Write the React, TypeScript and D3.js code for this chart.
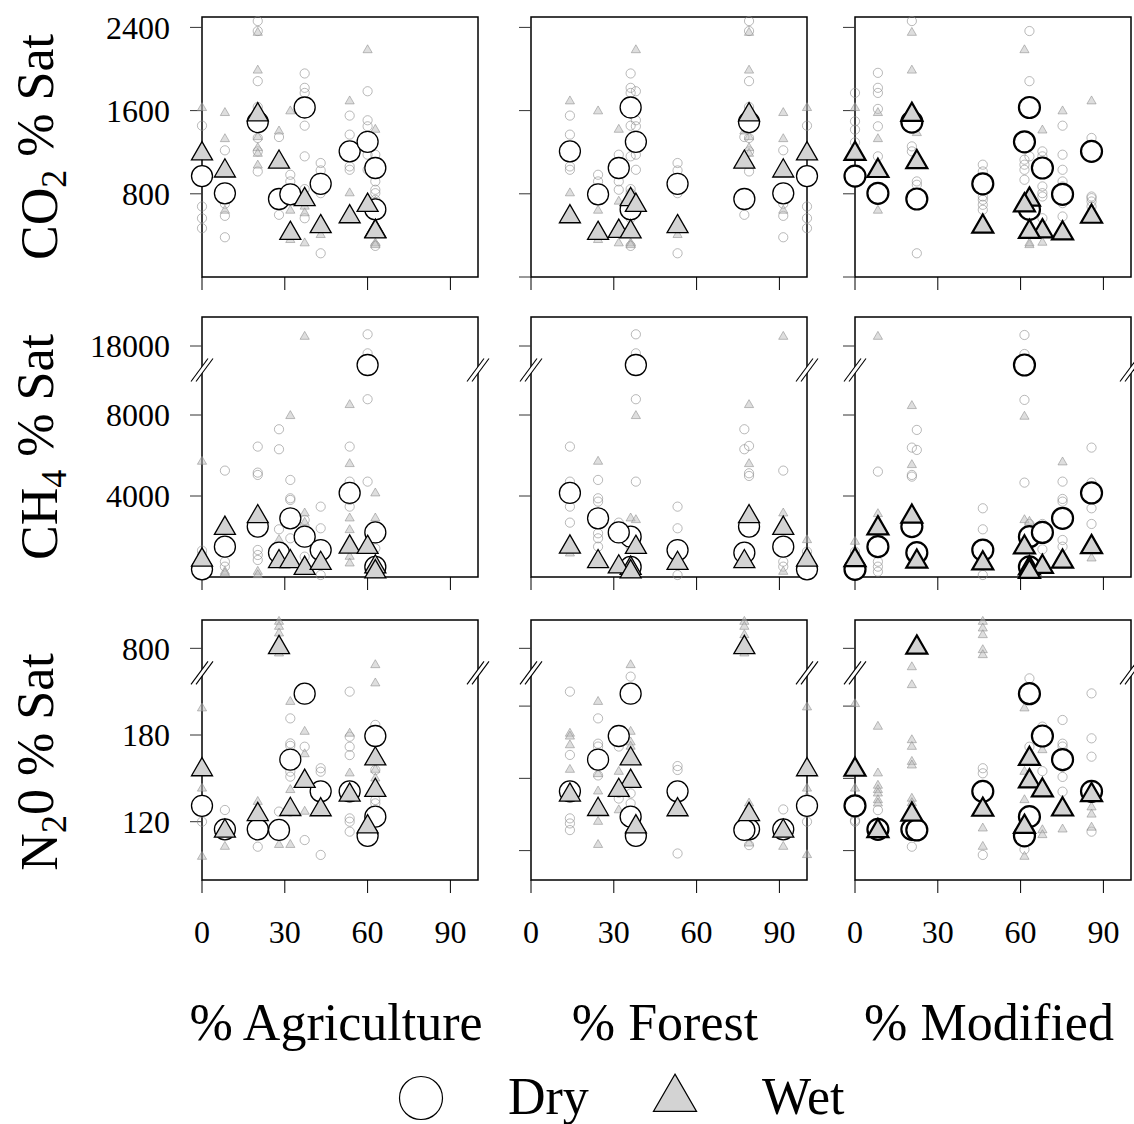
import React, { useEffect, useRef } from 'react';
import * as d3 from 'd3';

// land use of the 11 streams (%)
const agriculture = [0, 8.3, 20.2, 27.9, 32, 37.2, 43, 53.5, 60, 62.8, 62.8];
const forest = [100, 91.4, 79, 77.3, 24.3, 36.1, 53.1, 14.1, 38, 31.8, 36.1];
const modified = [0, 8.3, 20.6, 22.4, 75.2, 63.2, 46.3, 85.7, 61.4, 67.9, 63.2];

// stream means, % saturation
const co2Dry = [970, 805, 1490, 750, 795, 1630, 896, 1208, 1300, 1048, 650];
const co2Wet = [1185, 1020, 1560, 1105, 420, 745, 485, 580, 690, 440, 435];
const ch4Dry = [380, 1500, 2490, 1200, 2900, 1990, 1330, 4150, 15625, 2200, 500];
const ch4Wet = [840, 2405, 2980, 758, 758, 430, 675, 1480, 1466, 500, 260];
const n2oDry = [131, 114.7, 114.7, 114.3, 163, 208.6, 141, 141, 110.2, 179.3, 123.5];
const n2oWet = [156, 113.5, 125, 805, 128.5, 148, 128.3, 138.5, 116.5, 141.7, 163.5];

// single samples: [stream, value]
const co2DryObs = [
  [0, 1455], [0, 678], [0, 565], [0, 469],
  [1, 1218], [1, 704], [1, 588], [1, 382],
  [2, 2461], [2, 2365], [2, 1883], [2, 1635], [2, 1337], [2, 1208], [2, 1015],
  [3, 1346], [3, 598],
  [4, 983], [4, 919],
  [5, 1957], [5, 1819], [5, 1770], [5, 1455], [5, 1160], [5, 845], [5, 565],
  [6, 1096], [6, 1025], [6, 806], [6, 228],
  [7, 1552], [7, 1369], [7, 1063], [7, 1031],
  [8, 1786], [8, 1507], [8, 1449], [8, 1176], [8, 1031], [8, 662],
  [9, 1176], [9, 1096], [9, 919], [9, 839],
  [10, 806], [10, 742], [10, 299],
];
const co2WetObs = [
  [0, 1626],
  [1, 1578], [1, 1327], [1, 639],
  [2, 2349], [2, 1986], [2, 1610], [2, 1346], [2, 1240], [2, 1186], [2, 1073],
  [3, 1401],
  [4, 1594], [4, 726], [4, 639], [4, 357],
  [5, 678], [5, 614], [5, 325],
  [6, 405],
  [7, 1690], [7, 806],
  [8, 2182],
  [9, 1417], [9, 726], [9, 325],
  [10, 308],
];
const co2ModDryObs = [
  [0, 1770], [0, 1497], [0, 1417], [0, 1295],
  [1, 1963], [1, 1819], [1, 1770], [1, 1616], [1, 1449], [1, 1160],
  [2, 2461], [2, 1256], [2, 1208],
  [3, 919], [3, 887], [3, 228],
  [6, 1080], [6, 1015], [6, 774], [6, 742], [6, 694], [6, 646],
  [8, 1128], [8, 1080], [8, 1031], [8, 935],
  [5, 2365], [5, 1883],
  [10, 1160],
  [9, 1208], [9, 1160], [9, 871], [9, 806], [9, 774], [9, 565],
  [4, 1455], [4, 1176], [4, 1031], [4, 919], [4, 871], [4, 710], [4, 582],
  [7, 1337], [7, 774], [7, 758], [7, 726], [7, 678],
];
const co2ModWetObs = [
  [0, 1626],
  [1, 1578], [1, 1327], [1, 639],
  [2, 2349], [2, 1986], [3, 1385],
  [8, 2182],
  [9, 1410], [9, 331],
  [4, 1594],
  [7, 1690],
  [10, 308], [5, 325],
];

const ch4AgDryObs = [
  [0, 1301], [0, 1087],
  [1, 5254], [1, 758], [1, 511],
  [2, 6440], [2, 5155], [2, 5040], [2, 1334], [2, 1087], [2, 840],
  [3, 7296], [3, 6308], [3, 2355],
  [4, 4793], [4, 3887], [4, 3805], [4, 2981], [4, 1911],
  [5, 2816], [5, 1005],
  [6, 3475], [6, 2405], [6, 99],
  [7, 6440], [7, 4710], [7, 3805], [7, 3475],
  [8, 19460], [8, 17083], [8, 8779], [8, 4710],
  [9, 1416],
];
const ch4AgWetObs = [
  [0, 5699], [0, 1202],
  [1, 264], [1, 181],
  [2, 264], [2, 99],
  [3, 1828],
  [4, 7955],
  [5, 19167], [5, 3146], [5, 2685],
  [7, 8498], [7, 5583], [7, 2899], [7, 2322], [7, 1005], [7, 675],
  [9, 4134], [9, 2899],
];
const ch4ForDryObs = [
  [7, 6440], [7, 4710], [7, 3475], [7, 2685],
  [4, 4793], [4, 3887], [4, 3722], [4, 2158], [4, 1911], [4, 1499],
  [9, 2685], [9, 2158],
  [5, 1499],
  [8, 19460], [8, 17083], [8, 8779], [8, 4710],
  [6, 3475], [6, 2405], [6, 99],
  [3, 7296], [3, 6308],
  [2, 6473], [2, 5122], [2, 4990],
  [1, 5254], [1, 758], [1, 511],
  [0, 1252],
];
const ch4ForWetObs = [
  [7, 1169],
  [4, 5699],
  [5, 2899],
  [8, 7955], [8, 2816],
  [2, 8498], [2, 5583],
  [1, 19167], [1, 3146], [1, 264],
  [0, 1828],
];
const ch4ModDryObs = [
  [0, 1252],
  [1, 5205], [1, 758], [1, 511], [1, 264],
  [2, 6390], [2, 5040], [2, 4957],
  [3, 7263], [3, 6275],
  [6, 3393], [6, 2355], [6, 99],
  [8, 19375], [8, 17000], [8, 8746], [8, 4661],
  [5, 2619],
  [9, 2619], [9, 1367],
  [4, 4710], [4, 3854], [4, 3722], [4, 1828], [4, 1499],
  [7, 6390], [7, 4661], [7, 3393], [7, 2619],
];
const ch4ModWetObs = [
  [0, 1746],
  [1, 19167], [1, 3113],
  [2, 8449], [2, 5534],
  [8, 7922], [8, 2816],
  [5, 2734],
  [4, 5666],
  [7, 922],
];

const n2oAgDryObs = [
  [0, 120],
  [1, 128.1], [1, 118],
  [2, 102.7], [2, 125],
  [3, 127],
  [4, 191.5], [4, 174.2], [4, 172.5], [4, 154.6], [4, 151.2], [4, 127],
  [5, 171.9], [5, 107.3],
  [6, 157], [6, 154.6], [6, 97],
  [7, 210], [7, 178.8], [7, 171.9], [7, 166.1], [7, 122.3], [7, 120], [7, 113.1],
  [8, 114],
  [9, 187], [9, 155.8], [9, 135],
  [10, 132.7],
];
const n2oAgWetObs = [
  [0, 198.5], [0, 143], [0, 95.8],
  [1, 102.7], [1, 110],
  [2, 133.8], [2, 120],
  [3, 960], [3, 930], [3, 890], [3, 770], [3, 104],
  [4, 203], [4, 142], [4, 104],
  [5, 182.3], [5, 166.8], [5, 127],
  [7, 181], [7, 153.5],
  [9, 700], [9, 215.8], [9, 156],
  [10, 150],
];
const n2oForDryObs = [
  [7, 210], [7, 166.2], [7, 122.3], [7, 118.8], [7, 114.2],
  [4, 191.5], [4, 174], [4, 172], [4, 152],
  [9, 172], [9, 140], [9, 136],
  [5, 220.4], [5, 139.6], [5, 132.7],
  [6, 158.5], [6, 155.8], [6, 98],
  [2, 128], [2, 103.8],
  [1, 128.5],
  [0, 120],
];
const n2oForWetObs = [
  [7, 181], [7, 179], [7, 173], [7, 156],
  [4, 203], [4, 153], [4, 141], [4, 120], [4, 104],
  [9, 182], [9, 154.6], [9, 128],
  [5, 700], [5, 182.3], [5, 175], [5, 172],
  [3, 960], [3, 930], [3, 880], [3, 770],
  [2, 132.7], [2, 105],
  [1, 102.7],
  [0, 199.2], [0, 143], [0, 137.3], [0, 97],
];
const n2oModDryObs = [
  [0, 120], [0, 121],
  [1, 128],
  [2, 102.7],
  [6, 157], [6, 153.5], [6, 97],
  [5, 219.2], [5, 171.9],
  [8, 100.8],
  [9, 185.8], [9, 155],
  [4, 190.4], [4, 174], [4, 172], [4, 158], [4, 151], [4, 140.8],
  [7, 208.8], [7, 177.7], [7, 165], [7, 145], [7, 113.1],
];
const n2oModWetObs = [
  [0, 201.5], [0, 143],
  [1, 185.8], [1, 153.5], [1, 145], [1, 142], [1, 139.6], [1, 135], [1, 132.7],
  [2, 227], [2, 214.6], [2, 176.5], [2, 171.9], [2, 161.5], [2, 159], [2, 136], [2, 133],
  [6, 960], [6, 920], [6, 880], [6, 790], [6, 760], [6, 115.4], [6, 102.7],
  [8, 198.5], [8, 154.6], [8, 135], [8, 95.8],
  [9, 169.6], [9, 114.2], [9, 110.8],
  [4, 114.7],
  [7, 130], [7, 125], [7, 116],
];

// axis ticks
const xTicks = [0, 30, 60, 90];
const co2Ticks = [800, 1600, 2400];
const co2TicksRight = [0, 800, 1600, 2400];
const ch4Ticks = [4000, 8000, 18000];
const n2oTicks = [120, 180, 800];
const n2oTicksRight = [100, 150, 200, 800];

const xTitles = ['% Agriculture', '% Forest', '% Modified'];

const FONT = "'Liberation Serif', 'Times New Roman', Times, serif";

// R-style triangle (pch 24) centred on its centroid
const triPath = (s) => {
  const r = 1.555 * s, xc = 1.347 * s, yc = 0.778 * s;
  return `M0,${-r}L${xc},${yc}L${-xc},${yc}Z`;
};

const App = () => {
  const ref = useRef(null);

  useEffect(() => {
    const svg = d3.select(ref.current);
    svg.selectAll('*').remove();

    const colLeft = [202, 531, 855];
    const colW = 276;
    const rowTop = [17, 317, 620];
    const rowH = 260;

    // y scales, two with a broken axis
    const co2Y = d3.scaleLinear().domain([0, 2500]).range([277, 17]);
    const ch4Lo = d3.scaleLinear().domain([0, 8000]).range([577, 415]);
    const ch4Hi = d3.scaleLinear().domain([15000, 20000]).range([370, 330]);
    const ch4Y = (v) => (v > 12000 ? ch4Hi(v) : ch4Lo(v));
    const n2oLo = d3.scaleLinear().domain([120, 180]).range([821.7, 735]);
    const n2oHi = d3.scaleLinear().domain([700, 1000]).range([665, 615]);
    const n2oY = (v) => (v > 400 ? n2oHi(v) : n2oLo(v));

    const rows = [
      { y: co2Y, dry: co2Dry, wet: co2Wet, ticks: [co2Ticks, co2TicksRight, co2TicksRight], labels: co2Ticks,
        obs: [[co2DryObs, co2WetObs], [co2DryObs, co2WetObs], [co2ModDryObs, co2ModWetObs]], brk: null,
        title: ['CO', '2', ' % Sat'] },
      { y: ch4Y, dry: ch4Dry, wet: ch4Wet, ticks: [ch4Ticks, ch4Ticks, ch4Ticks], labels: ch4Ticks,
        obs: [[ch4AgDryObs, ch4AgWetObs], [ch4ForDryObs, ch4ForWetObs], [ch4ModDryObs, ch4ModWetObs]], brk: ch4Hi(15000),
        title: ['CH', '4', ' % Sat'] },
      { y: n2oY, dry: n2oDry, wet: n2oWet, ticks: [n2oTicks, n2oTicksRight, n2oTicksRight], labels: n2oTicks,
        obs: [[n2oAgDryObs, n2oAgWetObs], [n2oForDryObs, n2oForWetObs], [n2oModDryObs, n2oModWetObs]], brk: n2oLo(223),
        title: ['N', '2', '0 % Sat'] },
    ];
    const cols = [agriculture, forest, modified];

    rows.forEach((row, ri) => {
      const top = rowTop[ri];
      const bottom = top + rowH;
      cols.forEach((landuse, ci) => {
        const left = colLeft[ci];
        const x = d3.scaleLinear().domain([0, 100]).range([left, left + colW]);
        const g = svg.append('g');
        const lw = ci === 2 ? 2.2 : 1.3;

        // frame
        g.append('rect')
          .attr('x', left).attr('y', top)
          .attr('width', colW).attr('height', rowH)
          .attr('fill', 'none').attr('stroke', '#000').attr('stroke-width', 1.5);

        // x ticks
        xTicks.forEach((t) => {
          g.append('line')
            .attr('x1', x(t)).attr('x2', x(t))
            .attr('y1', bottom).attr('y2', bottom + 13)
            .attr('stroke', '#000').attr('stroke-width', 1);
          if (ri === 2) {
            g.append('text')
              .attr('x', x(t)).attr('y', 943)
              .attr('text-anchor', 'middle')
              .style('font-family', FONT).style('font-size', '32px')
              .text(t);
          }
        });

        // y ticks
        row.ticks[ci].forEach((t) => {
          g.append('line')
            .attr('x1', left - 12).attr('x2', left)
            .attr('y1', row.y(t)).attr('y2', row.y(t))
            .attr('stroke', '#333').attr('stroke-width', 1);
        });
        if (ci === 0) {
          row.labels.forEach((t) => {
            g.append('text')
              .attr('x', left - 32).attr('y', row.y(t))
              .attr('dy', '0.35em')
              .attr('text-anchor', 'end')
              .style('font-family', FONT).style('font-size', '32px')
              .text(t);
          });
        }

        // axis break marks on both sides
        if (row.brk !== null) {
          [left, left + colW].forEach((bx) => {
            const by = row.brk;
            g.append('path')
              .attr('d', `M${bx - 10},${by + 8}L${bx - 4},${by + 8}L${bx + 10},${by - 8}L${bx + 4},${by - 8}Z`)
              .attr('fill', '#fff');
            [-2.5, 2.5].forEach((o) => {
              g.append('line')
                .attr('x1', bx - 8.5 + o).attr('y1', by + 11.5)
                .attr('x2', bx + 8.5 + o).attr('y2', by - 11.5)
                .attr('stroke', '#000').attr('stroke-width', 1.1);
            });
          });
        }

        // single samples
        const [dryObs, wetObs] = row.obs[ci];
        g.append('g').selectAll('circle')
          .data(dryObs).enter().append('circle')
          .attr('cx', (d) => x(landuse[d[0]]))
          .attr('cy', (d) => row.y(d[1]))
          .attr('r', 4.6)
          .attr('fill', 'none')
          .attr('stroke', '#8a8a8a').attr('stroke-opacity', 0.6).attr('stroke-width', 1);
        g.append('g').selectAll('path')
          .data(wetObs).enter().append('path')
          .attr('transform', (d) => `translate(${x(landuse[d[0]])},${row.y(d[1])})`)
          .attr('d', triPath(3.4))
          .attr('fill', '#bdbdbd').attr('fill-opacity', 0.5)
          .attr('stroke', '#8a8a8a').attr('stroke-opacity', 0.55).attr('stroke-width', 1);

        // stream means
        g.append('g').selectAll('circle')
          .data(row.dry).enter().append('circle')
          .attr('cx', (d, i) => x(landuse[i]))
          .attr('cy', (d) => row.y(d))
          .attr('r', 10.5)
          .attr('fill', '#fff')
          .attr('stroke', '#000').attr('stroke-width', lw);
        g.append('g').selectAll('path')
          .data(row.wet).enter().append('path')
          .attr('transform', (d, i) => `translate(${x(landuse[i])},${row.y(d)})`)
          .attr('d', triPath(7.8))
          .attr('fill', '#d3d3d3')
          .attr('stroke', '#000').attr('stroke-width', lw)
          .attr('stroke-linejoin', 'miter');
      });

      // row title
      const cy = ri === 2 ? 762 : top + rowH / 2;
      const t = svg.append('text')
        .attr('transform', `translate(57,${cy}) rotate(-90)`)
        .attr('text-anchor', 'middle')
        .style('font-family', FONT).style('font-size', '52px');
      t.append('tspan').text(row.title[0]);
      t.append('tspan').attr('dy', '0.25em').style('font-size', '36px').text(row.title[1]);
      t.append('tspan').attr('dy', '-0.25em').text(row.title[2]);
    });

    // column titles
    xTitles.forEach((txt, ci) => {
      svg.append('text')
        .attr('x', colLeft[ci] + colW / 2 - 4).attr('y', 1040)
        .attr('text-anchor', 'middle')
        .style('font-family', FONT).style('font-size', '52px')
        .text(txt);
    });

    // legend
    const lg = svg.append('g');
    lg.append('circle').attr('cx', 421).attr('cy', 1098).attr('r', 21.5)
      .attr('fill', '#fff').attr('stroke', '#000').attr('stroke-width', 1.2);
    lg.append('text').attr('x', 508).attr('y', 1114)
      .style('font-family', FONT).style('font-size', '52px').text('Dry');
    lg.append('path').attr('transform', 'translate(675,1099)')
      .attr('d', triPath(16))
      .attr('fill', '#d3d3d3').attr('stroke', '#000').attr('stroke-width', 1.2);
    lg.append('text').attr('x', 762).attr('y', 1114)
      .style('font-family', FONT).style('font-size', '52px').text('Wet');
  }, []);

  return (
    <svg
      ref={ref}
      width={1134}
      height={1124}
      style={{ position: 'absolute', left: 0, top: 0, background: '#fff' }}
    />
  );
};

export default App;
